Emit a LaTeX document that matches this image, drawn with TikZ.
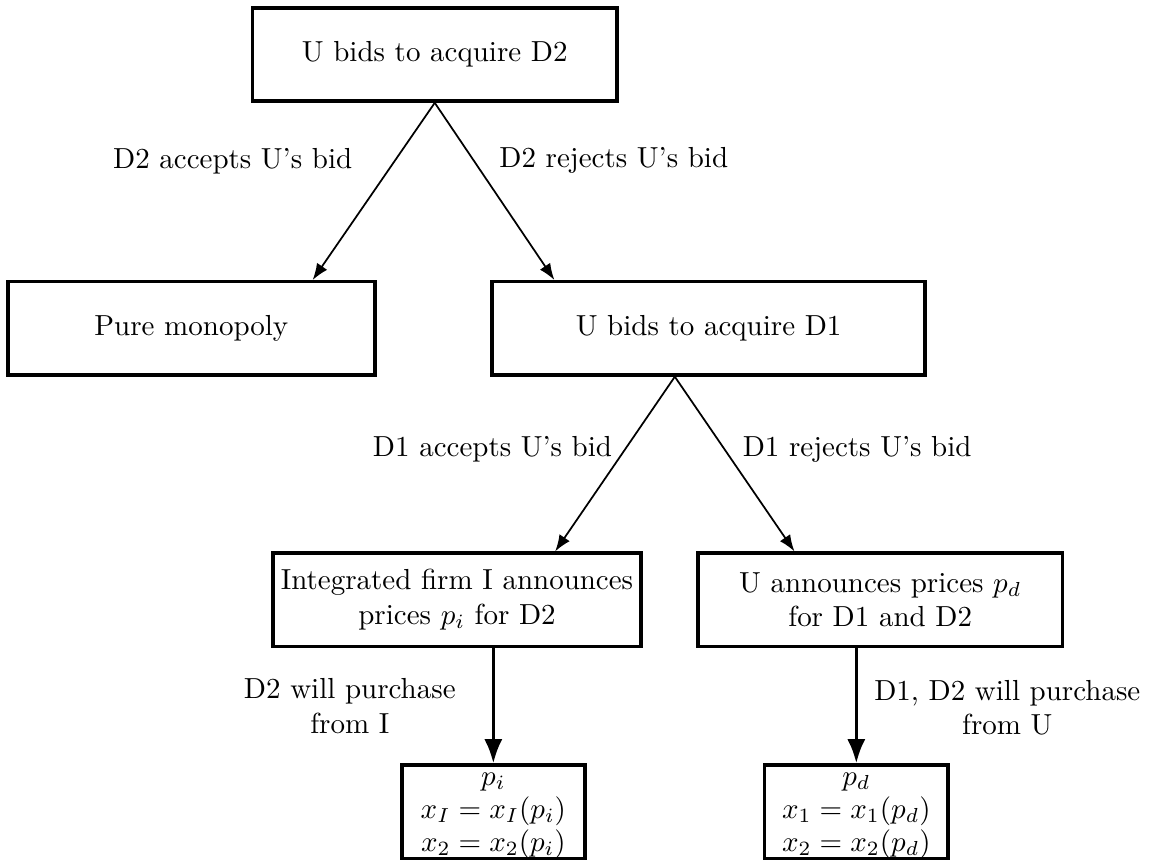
\documentclass[tikz,border=0pt]{standalone}
\usetikzlibrary{arrows.meta}
\tikzstyle{stage}=[draw,very thick,minimum width=4.42cm,minimum height=1.13cm,align=center,inner sep=2pt]
\tikzstyle{outcome}=[draw,very thick,minimum width=2.22cm,minimum height=1.13cm,inner sep=0pt]
\tikzstyle{move}=[draw,semithick,-{Latex}]
\tikzstyle{commit}=[draw,very thick,-{Latex}]
\renewcommand{\arraystretch}{0.95}
\newcommand{\outcometext}[3]{\smash{\raisebox{-2.5pt}{$\begin{array}{c}#1\\#2\\#3\end{array}$}}}

\begin{document}
\begin{tikzpicture}
    \useasboundingbox (0,0) rectangle (13.94,-10.44);
    % decision stages
    \node[stage] (bidD2) at (5.27,-0.66) {U bids to acquire D2};
    \node[stage,minimum width=4.45cm] (mono) at (2.32,-3.98) {Pure monopoly};
    \node[stage,minimum width=5.25cm] (bidD1) at (8.59,-3.98) {U bids to acquire D1};
    \node[stage,minimum width=4.46cm] (integ) at (5.54,-7.27) {Integrated firm I announces\\prices $p_i$ for D2};
    \node[stage] (uann) at (10.67,-7.27) {U announces prices $p_d$\\for D1 and D2};
    \node[outcome] (outI) at (5.98,-9.84) {\outcometext{p_i}{x_I = x_I(p_i)}{x_2 = x_2(p_i)}};
    \node[outcome] (outU) at (10.38,-9.84) {\outcometext{p_d}{x_1 = x_1(p_d)}{x_2 = x_2(p_d)}};

    % moves
    \coordinate (fork) at ([xshift=-0.41cm]bidD1.south);
    \path[move] (bidD2.south) -- ([xshift=1.47cm]mono.north);
    \path[move] (bidD2.south) -- ([xshift=-1.87cm]bidD1.north);
    \path[move] (fork) -- ([xshift=1.19cm]integ.north);
    \path[move] (fork) -- ([xshift=-1.04cm]uann.north);
    \path[commit] (outI.north |- integ.south) -- (outI.north);
    \path[commit] (outU.north |- uann.south) -- (outU.north);

    % labels
    \foreach \pos/\name/\txt in {{(2.82,-1.95)/accD2/D2 accepts U's bid},
                                 {(7.44,-1.94)/rejD2/D2 rejects U's bid},
                                 {(5.97,-5.45)/accD1/D1 accepts U's bid},
                                 {(10.39,-5.45)/rejD1/D1 rejects U's bid},
                                 {(4.24,-8.56)/buyI/D2 will purchase\\from I},
                                 {(12.21,-8.58)/buyU/{D1, D2 will purchase\\from U}}}
        \node[align=center] (\name) at \pos {\txt};
\end{tikzpicture}
\end{document}
